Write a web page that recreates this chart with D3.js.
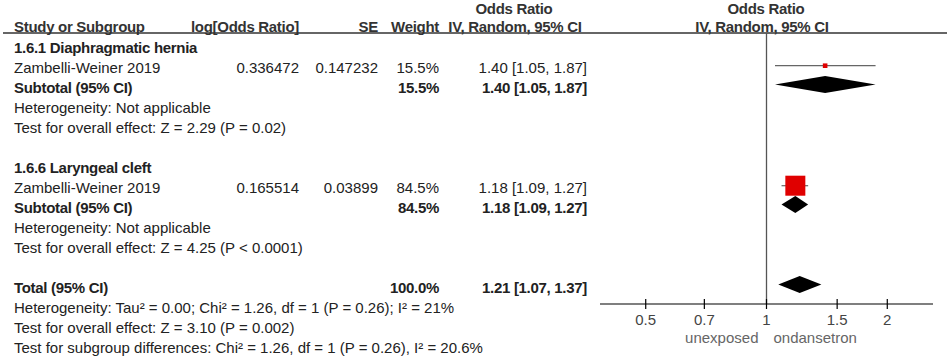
<!DOCTYPE html>
<html><head><meta charset="utf-8">
<script src="https://cdn.jsdelivr.net/npm/d3@7"></script>
<style>
body{margin:0;background:#fff;}
svg text{font-family:"Liberation Sans",Arial,sans-serif;font-size:15px;fill:#222;}
</style></head>
<body><svg id="c" width="948" height="357"></svg>
<script>
// ---- data ----
const subgroupTitles = ["1.6.1 Diaphragmatic hernia", "1.6.6 Laryngeal cleft"];
const studyNames = ["Zambelli-Weiner 2019", "Zambelli-Weiner 2019"];
const logOddsRatio = ["0.336472", "0.165514"];
const seValues = ["0.147232", "0.03899"];
const studyWeights = [15.5, 84.5];
const studyOR = [1.40, 1.18];
const studyLo = [1.05, 1.09];
const studyHi = [1.87, 1.27];
const subtotalWeights = [15.5, 84.5];
const subtotalOR = [1.40, 1.18];
const subtotalLo = [1.05, 1.09];
const subtotalHi = [1.87, 1.27];
const subHeterogeneity = ["Heterogeneity: Not applicable", "Heterogeneity: Not applicable"];
const subOverall = ["Test for overall effect: Z = 2.29 (P = 0.02)", "Test for overall effect: Z = 4.25 (P < 0.0001)"];
const totalWeight = 100.0;
const totalOR = [1.21, 1.07, 1.37]; // est, lo, hi
const totalNotes = [
  "Heterogeneity: Tau\u00b2 = 0.00; Chi\u00b2 = 1.26, df = 1 (P = 0.26); I\u00b2 = 21%",
  "Test for overall effect: Z = 3.10 (P = 0.002)",
  "Test for subgroup differences: Chi\u00b2 = 1.26, df = 1 (P = 0.26), I\u00b2 = 20.6%"
];
const tickValues = [0.5, 0.7, 1, 1.5, 2];
const favourLabels = ["unexposed", "ondansetron"];

// ---- layout ----
const svg = d3.select("#c");
const row0 = 48, rowH = 20;
const rowY = i => row0 + rowH * i;
const colStudy = 14, colLog = 299, colSE = 378, colW = 439, colCI = 587;
const x = d3.scaleLog().domain([1 / 2.6, 2.6]).range([600, 933]);
const axisY = 304, headLineY = 33;
const boxSize = d3.scaleLinear().domain([15.5, 84.5]).range([4.6, 20]);
const fmt = d3.format(".2f");
const ciText = (e, l, h) => `${fmt(e)} [${fmt(l)}, ${fmt(h)}]`;

function txt(xp, y, s, opt = {}) {
  const t = svg.append("text").attr("x", xp).attr("y", y + 5).text(s)
    .attr("text-anchor", opt.anchor || "start");
  if (opt.bold) t.style("font-weight", "bold").style("letter-spacing", "-0.3px");
  if (opt.fill) t.style("fill", opt.fill);
  return t;
}

// headers
txt(colStudy, 27, "Study or Subgroup", {bold: true, fill: "#333"});
txt(colLog, 27, "log[Odds Ratio]", {bold: true, anchor: "end", fill: "#333"});
txt(colSE, 27, "SE", {bold: true, anchor: "end", fill: "#333"});
txt(colW, 27, "Weight", {bold: true, anchor: "end", fill: "#333"});
txt(514, 9, "Odds Ratio", {bold: true, anchor: "middle", fill: "#333"});
txt(515, 27, "IV, Random, 95% CI", {bold: true, anchor: "middle", fill: "#333"});
txt(766, 9, "Odds Ratio", {bold: true, anchor: "middle", fill: "#333"});
txt(762, 27, "IV, Random, 95% CI", {bold: true, anchor: "middle", fill: "#333"});
svg.append("line").attr("x1", 3).attr("x2", 947).attr("y1", headLineY).attr("y2", headLineY)
  .attr("stroke", "#333").attr("stroke-width", 1.3);

// null line
svg.append("line").attr("x1", x(1)).attr("x2", x(1)).attr("y1", headLineY).attr("y2", axisY)
  .attr("stroke", "#555").attr("stroke-width", 1.3);

function diamond(lo, est, hi, cy) {
  const h = 8.5;
  svg.append("path")
    .attr("d", `M${x(lo)},${cy}L${x(est)},${cy - h}L${x(hi)},${cy}L${x(est)},${cy + h}Z`)
    .attr("fill", "#000");
}

subgroupTitles.forEach((title, g) => {
  const base = g * 6;
  txt(colStudy, rowY(base), title, {bold: true});
  const yS = rowY(base + 1);
  txt(colStudy, yS, studyNames[g]);
  txt(colLog, yS, logOddsRatio[g], {anchor: "end"});
  txt(colSE, yS, seValues[g], {anchor: "end"});
  txt(colW, yS, studyWeights[g].toFixed(1) + "%", {anchor: "end"});
  txt(colCI, yS, ciText(studyOR[g], studyLo[g], studyHi[g]), {anchor: "end"});
  const cy = yS - 2.3;
  svg.append("line").attr("x1", x(studyLo[g])).attr("x2", x(studyHi[g]))
    .attr("y1", cy).attr("y2", cy).attr("stroke", "#666").attr("stroke-width", 1.2);
  const s = boxSize(studyWeights[g]);
  svg.append("rect").attr("x", x(studyOR[g]) - s / 2).attr("y", cy - s / 2)
    .attr("width", s).attr("height", s).attr("fill", "#e00000");
  const ySub = rowY(base + 2);
  txt(colStudy, ySub, "Subtotal (95% CI)", {bold: true});
  txt(colW, ySub, subtotalWeights[g].toFixed(1) + "%", {bold: true, anchor: "end"});
  txt(colCI, ySub, ciText(subtotalOR[g], subtotalLo[g], subtotalHi[g]), {bold: true, anchor: "end"});
  diamond(subtotalLo[g], subtotalOR[g], subtotalHi[g], ySub - 3.5);
  txt(colStudy, rowY(base + 3), subHeterogeneity[g]);
  txt(colStudy, rowY(base + 4), subOverall[g]);
});

const yT = rowY(12);
txt(colStudy, yT, "Total (95% CI)", {bold: true});
txt(colW, yT, totalWeight.toFixed(1) + "%", {bold: true, anchor: "end"});
txt(colCI, yT, ciText(totalOR[0], totalOR[1], totalOR[2]), {bold: true, anchor: "end"});
diamond(totalOR[1], totalOR[0], totalOR[2], yT - 3.5);
totalNotes.forEach((n, i) => txt(colStudy, rowY(13 + i), n));

// axis
const axG = svg.append("g").attr("transform", `translate(0,${axisY})`);
axG.append("line").attr("x1", x.range()[0]).attr("x2", x.range()[1])
  .attr("stroke", "#000").attr("stroke-width", 1.2);
axG.selectAll("line.tk").data(tickValues).join("line").attr("class", "tk")
  .attr("x1", d => x(d)).attr("x2", d => x(d)).attr("y1", -5).attr("y2", 5)
  .attr("stroke", "#000").attr("stroke-width", 1.2);
axG.selectAll("text.tl").data(tickValues).join("text").attr("class", "tl")
  .attr("x", d => x(d)).attr("y", 21).attr("text-anchor", "middle")
  .style("fill", "#444").text(d => String(d));
txt(x(1) - 8, 338, favourLabels[0], {anchor: "end", fill: "#666"});
txt(x(1) + 7, 338, favourLabels[1], {anchor: "start", fill: "#666"});
</script></body></html>
